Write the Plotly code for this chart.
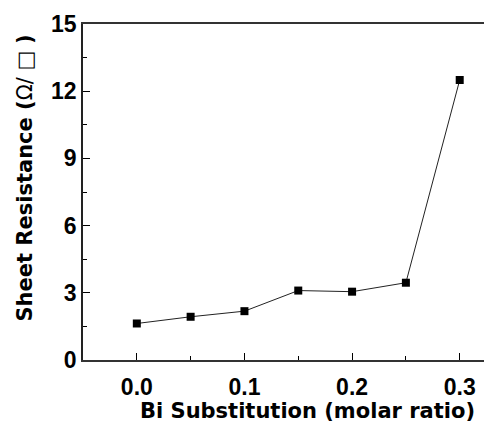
import plotly.graph_objects as go

bi_ratio = [0.0, 0.05, 0.10, 0.15, 0.20, 0.25, 0.30]
sheet_res = [1.63, 1.93, 2.18, 3.10, 3.05, 3.45, 12.50]

x_ticks = [0.0, 0.1, 0.2, 0.3]
x_tick_text = ["0.0", "0.1", "0.2", "0.3"]
y_ticks = [0, 3, 6, 9, 12, 15]

TICK_FONT = "Liberation Sans, Arial, sans-serif"
TITLE_FONT = "DejaVu Sans, sans-serif"

fig = go.Figure()
fig.add_trace(go.Scatter(
    x=bi_ratio, y=sheet_res, mode="lines+markers",
    line=dict(color="#222222", width=1),
    marker=dict(symbol="square", size=8, color="black"),
    showlegend=False,
))

# the page body adds an 8px offset, so the figure is sized to the visible window
fig.update_layout(
    width=484, height=415,
    margin=dict(l=75, r=0, t=16, b=63),
    paper_bgcolor="white", plot_bgcolor="white",
    font=dict(family=TICK_FONT, color="black", size=23, weight="bold"),
)
fig.update_xaxes(
    range=[-0.05, 0.33], tickvals=x_ticks, ticktext=x_tick_text,
    automargin=False,
    ticks="inside", ticklen=7, tickwidth=1.2, tickcolor="black",
    ticklabelstandoff=5,
    showline=True, linecolor="#333333", linewidth=1.8, mirror=True,
    showgrid=False, zeroline=False,
    minor=dict(ticks="inside", dtick=0.05, ticklen=4, tickcolor="black", showgrid=False),
    tickfont=dict(size=23, family=TICK_FONT, weight="bold"),
)
fig.update_yaxes(
    range=[0, 15], tickvals=y_ticks,
    automargin=False,
    ticks="inside", ticklen=7, tickwidth=1.2, tickcolor="black",
    showline=True, linecolor="#222222", linewidth=1.6, mirror=False,
    showgrid=False, zeroline=False,
    minor=dict(ticks="inside", dtick=1.5, ticklen=4, tickcolor="black", showgrid=False),
    tickfont=dict(size=23, family=TICK_FONT, weight="bold"),
)
fig.add_annotation(
    text="Sheet Resistance (<span style='font-weight:normal'>Ω/ □ </span>)",
    xref="paper", yref="paper", x=-0.1418, y=0.540, textangle=-90,
    xanchor="center", yanchor="middle", showarrow=False,
    font=dict(size=21, family=TITLE_FONT, weight="bold", color="black"),
)
fig.add_annotation(
    text="Bi Substitution (molar ratio)", xref="paper", yref="paper",
    x=0.5477, y=-0.152, xanchor="center", yanchor="middle", showarrow=False,
    font=dict(size=21, family=TITLE_FONT, weight="bold", color="black"),
)

fig.write_html("out.html")
